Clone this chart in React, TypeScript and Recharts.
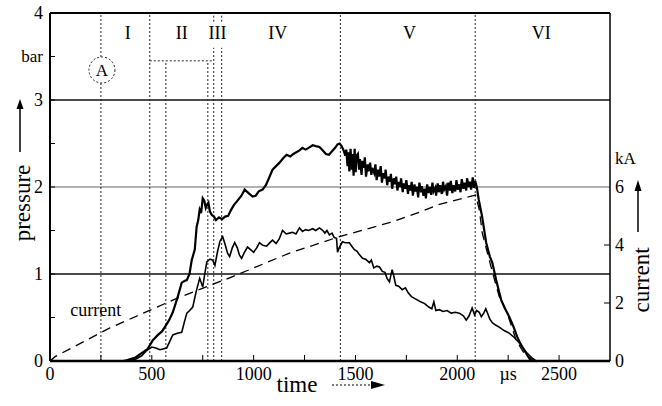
import React from "react";
import { LineChart, Line, XAxis, YAxis, ReferenceLine, ReferenceDot } from "recharts";

const serif = '"Liberation Serif", "Times New Roman", "DejaVu Serif", serif';

// [time µs, pressure bar] - upper (thick) trace
const upperPressure: [number, number][] = [
  [360, 0], [380, 0.01], [420, 0.04], [450, 0.09], [480, 0.14], [505, 0.24], [530, 0.3], [550, 0.34],
  [569, 0.41], [585, 0.47], [603, 0.56], [625, 0.72], [647, 0.9], [660, 0.92], [672, 0.93], [685, 1.0],
  [696, 1.16], [711, 1.28], [720, 1.54], [728, 1.62], [735, 1.74], [742, 1.7], [750, 1.87], [758, 1.84],
  [765, 1.76], [772, 1.8], [778, 1.82], [785, 1.72], [794, 1.68], [805, 1.66], [815, 1.62], [830, 1.65],
  [845, 1.63], [860, 1.66], [875, 1.67], [890, 1.74], [905, 1.8], [920, 1.84], [940, 1.9], [956, 1.97],
  [975, 1.93], [995, 1.89], [1010, 1.9], [1025, 1.95], [1044, 1.97], [1060, 2.02], [1075, 2.1], [1093, 2.2],
  [1110, 2.24], [1127, 2.28], [1145, 2.33], [1162, 2.37], [1180, 2.35], [1195, 2.38], [1210, 2.4], [1225, 2.42],
  [1240, 2.45], [1255, 2.43], [1270, 2.45], [1290, 2.48], [1305, 2.47], [1323, 2.46], [1340, 2.42], [1355, 2.38],
  [1370, 2.37], [1385, 2.41], [1400, 2.45], [1412, 2.49], [1422, 2.5], [1432, 2.47], [1442, 2.42], [1450, 2.36],
  [1455, 2.43], [1461, 2.24], [1466, 2.4], [1470, 2.18], [1476, 2.44], [1481, 2.2], [1485, 2.38], [1491, 2.13],
  [1496, 2.44], [1501, 2.17], [1506, 2.36], [1512, 2.38], [1518, 2.2], [1522, 2.32], [1530, 2.14], [1534, 2.3],
  [1542, 2.22], [1546, 2.34], [1552, 2.12], [1560, 2.26], [1564, 2.18], [1572, 2.28], [1578, 2.14], [1582, 2.22],
  [1592, 2.16], [1598, 2.26], [1604, 2.08], [1612, 2.2], [1616, 2.12], [1624, 2.24], [1630, 2.05], [1636, 2.16],
  [1644, 2.1], [1648, 2.2], [1656, 2.02], [1662, 2.12], [1670, 2.06], [1674, 2.15], [1680, 1.98], [1688, 2.1],
  [1694, 2.03], [1700, 2.12], [1706, 1.96], [1712, 2.06], [1720, 2.0], [1724, 2.1], [1732, 1.94], [1738, 2.04],
  [1744, 1.98], [1750, 2.08], [1758, 1.92], [1762, 2.02], [1770, 1.96], [1776, 2.06], [1782, 1.9], [1790, 2.03],
  [1794, 1.95], [1802, 2.0], [1808, 1.88], [1814, 2.05], [1822, 1.94], [1826, 2.01], [1834, 1.9], [1840, 1.98],
  [1846, 1.87], [1852, 2.03], [1860, 1.93], [1864, 2.0], [1872, 1.91], [1878, 2.05], [1884, 1.95], [1892, 1.99],
  [1896, 1.9], [1904, 2.04], [1910, 1.94], [1916, 2.02], [1924, 1.92], [1930, 2.06], [1936, 1.97], [1944, 2.01],
  [1950, 1.9], [1956, 2.05], [1964, 1.96], [1968, 2.07], [1976, 1.93], [1982, 2.02], [1990, 1.95], [1996, 2.08],
  [2002, 1.97], [2010, 2.03], [2016, 1.94], [2022, 2.09], [2030, 1.98], [2036, 2.05], [2044, 1.96], [2048, 2.1],
  [2056, 2.0], [2062, 2.06], [2068, 1.97], [2076, 2.11], [2082, 1.99], [2088, 2.07], [2096, 2.0], [2105, 1.86],
  [2122, 1.66], [2142, 1.36], [2160, 1.2], [2172, 1.13], [2191, 0.93], [2205, 0.8], [2216, 0.7], [2235, 0.6],
  [2255, 0.51], [2275, 0.4], [2294, 0.28], [2310, 0.2], [2328, 0.13], [2345, 0.06], [2363, 0],
];

// [time µs, pressure bar] - lower trace
const lowerPressure: [number, number][] = [
  [380, 0], [420, 0.02], [450, 0.06], [475, 0.12], [500, 0.16], [520, 0.15], [540, 0.13], [573, 0.15],
  [603, 0.3], [625, 0.32], [647, 0.33], [660, 0.45], [672, 0.55], [686, 0.58], [701, 0.62], [718, 0.8],
  [735, 0.95], [750, 0.85], [760, 1.0], [770, 1.14], [785, 1.17], [799, 1.16], [810, 1.1], [822, 1.25],
  [835, 1.38], [848, 1.43], [860, 1.34], [872, 1.24], [882, 1.2], [895, 1.3], [907, 1.36], [920, 1.3],
  [930, 1.22], [941, 1.18], [955, 1.25], [970, 1.31], [985, 1.28], [1000, 1.25], [1015, 1.3], [1029, 1.36],
  [1045, 1.33], [1064, 1.32], [1080, 1.36], [1093, 1.39], [1110, 1.35], [1125, 1.4], [1142, 1.5], [1160, 1.46],
  [1176, 1.47], [1191, 1.48], [1208, 1.46], [1225, 1.53], [1240, 1.49], [1255, 1.51], [1270, 1.5], [1290, 1.52],
  [1305, 1.5], [1323, 1.53], [1340, 1.5], [1350, 1.47], [1360, 1.5], [1372, 1.45], [1385, 1.47], [1395, 1.42],
  [1407, 1.41], [1412, 1.25], [1420, 1.3], [1436, 1.37], [1450, 1.36], [1470, 1.36], [1482, 1.32], [1495, 1.28],
  [1508, 1.26], [1520, 1.22], [1535, 1.18], [1550, 1.17], [1569, 1.13], [1578, 1.16], [1590, 1.07], [1605, 1.09],
  [1618, 1.08], [1632, 1.03], [1645, 1.02], [1655, 0.95], [1667, 0.91], [1680, 1.05], [1688, 0.98], [1698, 0.87],
  [1712, 0.86], [1730, 0.82], [1745, 0.84], [1760, 0.78], [1775, 0.74], [1790, 0.72], [1805, 0.7], [1820, 0.68],
  [1840, 0.66], [1860, 0.62], [1875, 0.6], [1885, 0.68], [1895, 0.58], [1912, 0.59], [1930, 0.57], [1950, 0.58],
  [1970, 0.55], [1990, 0.56], [2010, 0.55], [2030, 0.52], [2044, 0.47], [2058, 0.52], [2073, 0.61], [2085, 0.53],
  [2095, 0.58], [2108, 0.56], [2118, 0.51], [2130, 0.55], [2140, 0.6], [2147, 0.56], [2160, 0.48], [2172, 0.44],
  [2190, 0.41], [2206, 0.39], [2230, 0.35], [2255, 0.32], [2280, 0.27], [2304, 0.21], [2325, 0.14], [2343, 0.09],
  [2365, 0.04], [2387, 0],
];

// [time µs, current kA]
const current: [number, number][] = [
  [0, 0], [25, 0.15], [294, 1.14], [623, 2.16], [897, 2.91], [1176, 3.72], [1422, 4.29], [1667, 4.77],
  [1814, 5.13], [1912, 5.4], [2059, 5.67], [2090, 5.72], [2108, 5.22], [2123, 4.41], [2157, 3.48],
  [2181, 2.85], [2206, 2.22], [2245, 1.65], [2289, 0.72], [2328, 0.27], [2377, 0],
];

const timeTicks = [0, 250, 500, 750, 1000, 1250, 1500, 1750, 2000, 2250, 2500, 2750];
const pressureTicks = [0, 0.5, 1, 1.5, 2, 2.5, 3, 3.5, 4];
const currentTicks = [0, 2, 4, 6, 7];

const phaseNames = ["I", "II", "III", "IV", "V", "VI"];
const phaseCenters = [382, 647, 823, 1118, 1765, 2412];
const fullMarkers = [250, 490, 1426, 2088];
const splitMarkers = [804, 843];
const shortMarkers = [569, 775];
const valveLevel = 3.45;

const upperData = upperPressure.map(([t, p]) => ({ t, p }));
const lowerData = lowerPressure.map(([t, p]) => ({ t, p }));
const currentData = current.map(([t, i]) => ({ t, i }));

const dotted = { stroke: "#222", strokeDasharray: "2 2", strokeWidth: 1 };
const txt = { fontFamily: serif };

function PressureTick({ x, y, payload }: any) {
  const v = payload.value;
  const label = Number.isInteger(v) ? String(v) : v === 3.5 ? "bar" : "";
  return (
    <g>
      {v > 0 && v < 4 && <line x1={x} x2={x + 5} y1={y} y2={y} stroke="#000" />}
      {label && (
        <text x={x - 7} y={y} textAnchor="end" dominantBaseline="central" style={txt} fontSize={v === 3.5 ? 17 : 18} fill="#000">
          {label}
        </text>
      )}
    </g>
  );
}

function CurrentTick({ x, y, payload }: any) {
  const v = payload.value;
  const label = v === 7 ? "kA" : String(v);
  return (
    <g>
      {(v === 2 || v === 4) && <line x1={x - 6} x2={x} y1={y} y2={y} stroke="#000" />}
      <text x={x + 5} y={y} textAnchor="start" dominantBaseline="central" style={txt} fontSize={v === 7 ? 17 : 18} fill="#000">
        {label}
      </text>
    </g>
  );
}

function TimeTick({ x, y, payload }: any) {
  const v = payload.value;
  const label = v === 2250 ? "µs" : v % 500 === 0 ? String(v) : "";
  return (
    <g>
      {v > 0 && v < 2750 && <line x1={x} x2={x} y1={y - 6} y2={y} stroke="#000" />}
      {label && (
        <text x={x} y={y + 19} textAnchor="middle" style={txt} fontSize={18} fill="#000">
          {label}
        </text>
      )}
    </g>
  );
}

function PressureLabel({ viewBox }: any) {
  const { x, y, height } = viewBox;
  const mid = y + height / 2;
  const cx = x + 14;
  const ax = x + 12;
  return (
    <g>
      <text x={cx} y={mid + 16} transform={`rotate(-90, ${cx}, ${mid + 16})`} textAnchor="middle" dominantBaseline="central" style={txt} fontSize={23} fill="#000">
        pressure
      </text>
      <line x1={ax} x2={ax} y1={mid - 35} y2={mid - 80} stroke="#000" strokeWidth={1.5} />
      <polygon points={`${ax - 3.5},${mid - 78} ${ax + 3.5},${mid - 78} ${ax},${mid - 88}`} fill="#000" />
    </g>
  );
}

function CurrentLabel({ viewBox }: any) {
  const { x, y, height } = viewBox;
  const mid = y + height / 2;
  const cx = x + 31;
  const ax = x + 28;
  return (
    <g>
      <text x={cx} y={mid + 93} transform={`rotate(-90, ${cx}, ${mid + 93})`} textAnchor="middle" dominantBaseline="central" style={txt} fontSize={23} fill="#000">
        current
      </text>
      <line x1={ax} x2={ax} y1={mid + 45} y2={mid + 2} stroke="#000" strokeWidth={1.5} />
      <polygon points={`${ax - 3.5},${mid + 4} ${ax + 3.5},${mid + 4} ${ax},${mid - 7}`} fill="#000" />
    </g>
  );
}

function TimeLabel({ viewBox }: any) {
  const { x, y } = viewBox;
  const ly = y + 24;
  return (
    <g>
      <text x={x + 247} y={ly + 7} textAnchor="middle" style={txt} fontSize={23} fill="#000">
        time
      </text>
      <line x1={x + 282} x2={x + 322} y1={ly} y2={ly} stroke="#000" strokeDasharray="2 2" />
      <polygon points={`${x + 321},${ly - 4} ${x + 321},${ly + 4} ${x + 335},${ly}`} fill="#000" />
    </g>
  );
}

export default function App() {
  return (
    <div style={{ position: "absolute", left: 0, top: 0, width: 662, height: 406, background: "#fff", fontFamily: serif }}>
      <LineChart width={662} height={406} margin={{ top: 13, right: 8, bottom: 15, left: 8 }} style={{ fontFamily: serif }}>
        <XAxis
          type="number"
          dataKey="t"
          domain={[0, 2750]}
          ticks={timeTicks}
          interval={0}
          tickLine={false}
          tickSize={0}
          tickMargin={0}
          tick={<TimeTick />}
          height={30}
          axisLine={{ stroke: "#000", strokeWidth: 2.5 }}
          label={{ content: (p: any) => <TimeLabel viewBox={p.viewBox} /> }}
        />
        <YAxis
          yAxisId="p"
          orientation="left"
          type="number"
          domain={[0, 4]}
          ticks={pressureTicks}
          interval={0}
          width={42}
          tickLine={false}
          tickSize={0}
          tickMargin={0}
          tick={<PressureTick />}
          axisLine={{ stroke: "#000", strokeWidth: 2 }}
          label={{ content: (p: any) => <PressureLabel viewBox={p.viewBox} /> }}
        />
        <YAxis
          yAxisId="i"
          orientation="right"
          type="number"
          domain={[0, 12]}
          ticks={currentTicks}
          interval={0}
          width={44}
          tickLine={false}
          tickSize={0}
          tickMargin={0}
          tick={<CurrentTick />}
          axisLine={{ stroke: "#000", strokeWidth: 1.5 }}
          label={{ content: (p: any) => <CurrentLabel viewBox={p.viewBox} /> }}
        />

        <ReferenceLine yAxisId="p" y={1} stroke="#111" strokeWidth={1.3} />
        <ReferenceLine yAxisId="p" y={2} stroke="#666" strokeWidth={1.2} />
        <ReferenceLine yAxisId="p" y={3} stroke="#111" strokeWidth={1.3} />
        <ReferenceLine yAxisId="p" y={4} stroke="#000" strokeWidth={2} />

        {fullMarkers.map((t) => (
          <ReferenceLine key={`f${t}`} yAxisId="p" x={t} {...dotted} />
        ))}
        {splitMarkers.map((t) => (
          <ReferenceLine key={`s${t}`} yAxisId="p" segment={[{ x: t, y: 0 }, { x: t, y: 3.6 }]} {...dotted} />
        ))}
        {splitMarkers.map((t) => (
          <ReferenceLine key={`s2${t}`} yAxisId="p" segment={[{ x: t, y: 3.9 }, { x: t, y: 4 }]} {...dotted} />
        ))}
        {shortMarkers.map((t) => (
          <ReferenceLine key={`h${t}`} yAxisId="p" segment={[{ x: t, y: 0 }, { x: t, y: valveLevel }]} {...dotted} />
        ))}
        <ReferenceLine yAxisId="p" segment={[{ x: 490, y: valveLevel }, { x: 804, y: valveLevel }]} {...dotted} />

        <ReferenceDot
          yAxisId="p"
          x={255}
          y={3.345}
          r={13}
          fill="#fff"
          stroke="#222"
          strokeDasharray="2 2"
          label={{ value: "A", position: "center", fontFamily: serif, fontSize: 17, fill: "#000" }}
        />
        {phaseNames.map((name, i) => (
          <ReferenceDot
            key={name}
            yAxisId="p"
            x={phaseCenters[i]}
            y={3.78}
            r={1}
            fill="none"
            stroke="none"
            label={{ value: name, position: "center", fontFamily: serif, fontSize: 18, fill: "#000" }}
          />
        ))}
        <ReferenceDot
          yAxisId="p"
          x={225}
          y={0.59}
          r={1}
          fill="none"
          stroke="none"
          label={{ value: "current", position: "center", fontFamily: serif, fontSize: 18, fill: "#000" }}
        />

        <Line yAxisId="i" data={currentData} dataKey="i" type="linear" stroke="#000" strokeWidth={1.3} strokeDasharray="9 6" dot={false} isAnimationActive={false} />
        <Line yAxisId="p" data={lowerData} dataKey="p" type="linear" stroke="#000" strokeWidth={1.6} dot={false} isAnimationActive={false} />
        <Line yAxisId="p" data={upperData} dataKey="p" type="linear" stroke="#000" strokeWidth={2.2} dot={false} isAnimationActive={false} />
      </LineChart>
    </div>
  );
}
